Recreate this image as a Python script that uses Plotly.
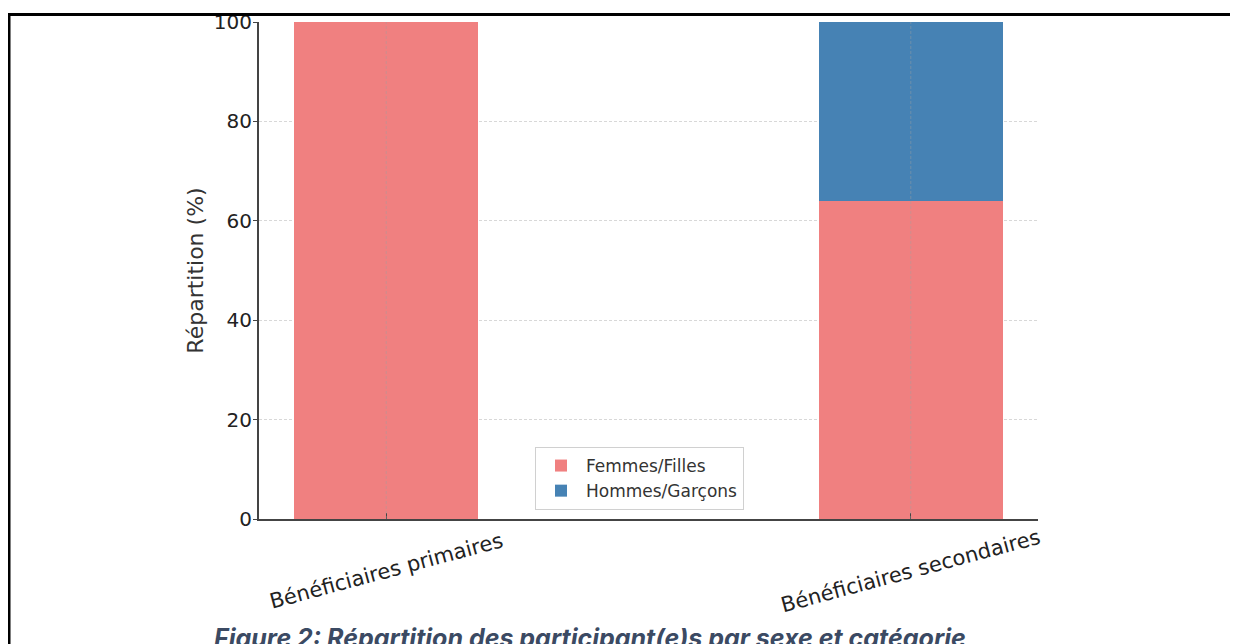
import plotly.graph_objects as go

categories = ["Bénéficiaires primaires", "Bénéficiaires secondaires"]
femmes = [100, 64]
hommes = [0, 36]
y_ticks = [0, 20, 40, 60, 80, 100]

W, H = 1238, 644
OFF = 8  # page offset of the figure in the browser
L, T = 251, 14
pw, ph = 779, 497
R, B = W - L - pw, H - T - ph

def px(x):  # screenshot pixel -> paper x
    return (x - OFF - L) / pw

def py(y):  # screenshot pixel -> paper y
    return (T + ph - (y - OFF)) / ph

fig = go.Figure()
fig.add_trace(go.Bar(x=[0, 1], y=femmes, name="Femmes/Filles", width=0.35,
                     marker=dict(color="#F08080", line=dict(width=0))))
fig.add_trace(go.Bar(x=[0, 1], y=hommes, name="Hommes/Garçons", width=0.35,
                     marker=dict(color="#4682B4", line=dict(width=0))))

tick_font = dict(family="DejaVu Sans", size=20, color="#222222")

annotations = [dict(text=c, xref="x", yref="paper", x=i, y=py(571),
                    xanchor="center", yanchor="middle", textangle=-15, showarrow=False,
                    font=dict(family="DejaVu Sans", size=21, color="#222222"))
               for i, c in enumerate(categories)]
annotations.append(dict(text="<b><i>Figure 2: Répartition des participant(e)s par sexe et catégorie</i></b>",
                        xref="paper", yref="paper", x=px(590), y=py(621),
                        xanchor="center", yanchor="top", showarrow=False,
                        font=dict(family="Inter", size=25, color="#3B4A63")))

shapes = [
    dict(type="line", xref="paper", yref="paper", x0=px(8), x1=px(1260), y0=py(14.5), y1=py(14.5),
         line=dict(color="black", width=3), layer="above"),
    dict(type="line", xref="paper", yref="paper", x0=px(9), x1=px(9), y0=py(13), y1=py(660),
         line=dict(color="black", width=3), layer="above"),
]
for i in range(len(categories)):
    shapes.append(dict(type="line", xref="x", yref="paper", x0=i, x1=i, y0=0, y1=1,
                       line=dict(color="rgba(160,160,160,0.45)", width=1, dash="3px,2px"),
                       layer="above"))

fig.update_layout(
    barmode="stack",
    width=W, height=H,
    margin=dict(l=L, r=R, t=T, b=B, autoexpand=False),
    paper_bgcolor="white", plot_bgcolor="white",
    showlegend=True,
    legend=dict(x=px(535), y=py(447), xanchor="left", yanchor="top",
                bgcolor="white", bordercolor="#D0D0D0", borderwidth=1,
                font=dict(family="DejaVu Sans", size=17, color="#333333"),
                traceorder="normal", itemwidth=40, tracegroupgap=0),
    xaxis=dict(range=[-0.2425, 1.2425], tickmode="array", tickvals=[0, 1],
               showticklabels=False, automargin=False,
               showline=True, linecolor="#444444", linewidth=2,
               ticks="inside", ticklen=6, tickcolor="#444444",
               showgrid=False, zeroline=False),
    yaxis=dict(range=[0, 100], tickmode="array", tickvals=y_ticks, tickfont=tick_font,
               automargin=False, ticklabelstandoff=-3,
               title=dict(text="Répartition (%)", font=dict(family="DejaVu Sans", size=22, color="#333333"),
                          standoff=4),
               showline=True, linecolor="#444444", linewidth=2,
               ticks="outside", ticklen=4, tickcolor="#444444",
               showgrid=True, gridcolor="rgba(190,190,190,0.6)", griddash="3px,2px", gridwidth=1,
               zeroline=False),
    annotations=annotations,
    shapes=shapes,
)

fig.write_html("out.html")
